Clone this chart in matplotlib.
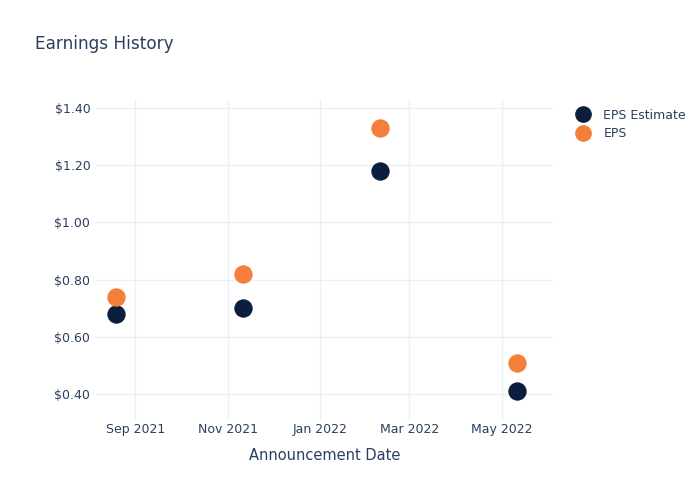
import matplotlib
matplotlib.use("Agg")
import matplotlib.pyplot as plt
from matplotlib.ticker import FuncFormatter
from matplotlib.lines import Line2D
import datetime as dt

dates = ["2021-08-19", "2021-11-11", "2022-02-10", "2022-05-11"]
eps_estimate = [0.68, 0.70, 1.18, 0.41]
eps_actual = [0.74, 0.82, 1.33, 0.51]
x_ticks = ["2021-09-01", "2021-11-01", "2022-01-01", "2022-03-01", "2022-05-01"]
x_tick_labels = ["Sep 2021", "Nov 2021", "Jan 2022", "Mar 2022", "May 2022"]
y_ticks = [0.40, 0.60, 0.80, 1.00, 1.20, 1.40]

text_color = "#2a3f5f"
grid_color = "#ebf0f8"
navy = "#0c1e3e"
orange = "#f47f3a"

to_dt = lambda s: dt.datetime.strptime(s, "%Y-%m-%d")
xd = [to_dt(d) for d in dates]

fig = plt.figure(figsize=(7, 5), dpi=100)
ax = fig.add_axes([0.137, 0.16, 0.653, 0.64])

ax.scatter(xd, eps_estimate, s=175, color=navy, zorder=3, linewidths=0)
ax.scatter(xd, eps_actual, s=175, color=orange, zorder=3, linewidths=0)

ax.set_xlim(to_dt("2021-08-06"), to_dt("2022-06-04"))
ax.set_ylim(0.309, 1.428)
ax.set_xticks([to_dt(d) for d in x_ticks])
ax.set_xticklabels(x_tick_labels)
ax.set_yticks(y_ticks)
ax.yaxis.set_major_formatter(FuncFormatter(lambda v, p: f"${v:.2f}"))

for s in ax.spines.values():
    s.set_visible(False)
ax.grid(True, color=grid_color, linewidth=1, zorder=0)
ax.set_axisbelow(True)
ax.tick_params(axis="both", length=0, labelsize=9, colors=text_color)
ax.tick_params(axis="x", pad=2)
ax.tick_params(axis="y", pad=4)

ax.set_xlabel("Announcement Date", fontsize=10.5, color=text_color, labelpad=9)
fig.text(0.05, 0.912, "Earnings History", fontsize=12.2, color=text_color, va="center", ha="left")

handles = [Line2D([], [], marker="o", linestyle="none", markersize=11, color=navy, label="EPS Estimate"),
           Line2D([], [], marker="o", linestyle="none", markersize=11, color=orange, label="EPS")]
leg = fig.legend(handles=handles, loc="upper left", bbox_to_anchor=(0.813, 0.795), frameon=False,
                 fontsize=9, labelcolor=text_color, handletextpad=1.05, labelspacing=0.45,
                 handlelength=1.2, borderpad=0)

fig.savefig("out.png", dpi=100)
